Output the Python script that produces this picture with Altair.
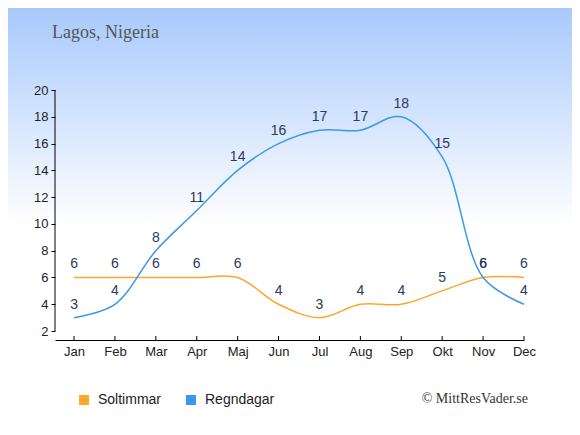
import altair as alt
import pandas as pd

months = ["Jan", "Feb", "Mar", "Apr", "Maj", "Jun", "Jul", "Aug", "Sep", "Okt", "Nov", "Dec"]
soltimmar = [6, 6, 6, 6, 6, 4, 3, 4, 4, 5, 6, 6]
regndagar = [3, 4, 8, 11, 14, 16, 17, 17, 18, 15, 6, 4]
series_names = ["Soltimmar", "Regndagar"]
series_colors = ["#ffa628", "#3b99ea"]
title_text = "Lagos, Nigeria"
credit_text = "© MittResVader.se"

rows = []
for i, m in enumerate(months):
    rows.append({"idx": i, "month": m, "serie": "Soltimmar", "value": soltimmar[i]})
    rows.append({"idx": i, "month": m, "serie": "Regndagar", "value": regndagar[i]})
df = pd.DataFrame(rows)
ticks_df = pd.DataFrame({"idx": list(range(len(months)))})

W, H = 469, 250
xscale = alt.Scale(domain=[-0.465, 11], nice=False, zero=False)
yscale = alt.Scale(domain=[1.333, 20], nice=False, zero=False)
month_expr = "[" + ",".join(f"'{m}'" for m in months) + "][datum.value]"
color_scale = alt.Scale(domain=series_names, range=series_colors)
legend = alt.Legend(title=None, orient="none", legendX=22, legendY=303,
                    direction="horizontal", symbolType="square",
                    symbolSize=100, symbolStrokeWidth=0, symbolOpacity=1,
                    labelFontSize=14, labelFont="Liberation Sans",
                    labelColor="#222", labelOffset=7, columnPadding=22)

x_axis = alt.Axis(values=list(range(12)), labelExpr=month_expr, ticks=False,
                  grid=False, title=None, labelPadding=5, labelFontSize=13,
                  labelFont="Liberation Sans", labelColor="#222",
                  domainColor="#000", labelFlush=False, labelOverlap=False, zindex=1)
y_axis = alt.Axis(values=list(range(2, 21, 2)), domain=False, grid=False, title=None,
                  tickSize=4, tickColor="#000", labelPadding=3, labelFontSize=13,
                  labelFont="Liberation Sans", labelColor="#222",
                  labelOverlap=False, zindex=1)

bg = alt.Chart(pd.DataFrame({"a": [0]})).mark_rect(
    color=alt.Gradient(
        gradient="linear",
        stops=[alt.GradientStop(color="#a8c9fc", offset=0),
               alt.GradientStop(color="#ffffff", offset=0.52)],
        x1=0, x2=0, y1=0, y2=1,
    )
).encode(x=alt.value(-47), x2=alt.value(W + 48), y=alt.value(-82), y2=alt.value(H + 87))

lines = alt.Chart(df).mark_line(interpolate="catmull-rom", strokeWidth=1.5).encode(
    x=alt.X("idx:Q", scale=xscale, axis=x_axis),
    y=alt.Y("value:Q", scale=yscale, axis=y_axis),
    color=alt.Color("serie:N", scale=color_scale, sort=series_names, legend=legend),
    detail="serie:N",
)

legend_pts = alt.Chart(df).mark_square(filled=True, opacity=0, size=1).encode(
    x=alt.X("idx:Q", scale=xscale, axis=x_axis),
    y=alt.Y("value:Q", scale=yscale, axis=y_axis),
    color=alt.Color("serie:N", scale=color_scale, sort=series_names, legend=legend),
)

labels = alt.Chart(df).mark_text(dy=-13, fontSize=14, font="Liberation Sans", color="#2a3a5a").encode(
    x=alt.X("idx:Q", scale=xscale, axis=x_axis),
    y=alt.Y("value:Q", scale=yscale, axis=y_axis),
    text="value:Q",
)

xticks = alt.Chart(ticks_df).mark_rule(color="#000", strokeWidth=1).encode(
    x=alt.X("idx:Q", scale=xscale, axis=x_axis), y=alt.value(H), y2=alt.value(H - 4)
)

yaxis_line = alt.Chart(pd.DataFrame({"lo": [2], "hi": [20]})).mark_rule(color="#000", strokeWidth=1).encode(
    x=alt.value(0), y=alt.Y("lo:Q", scale=yscale, axis=y_axis), y2="hi:Q"
)

title = alt.Chart(pd.DataFrame({"t": [title_text]})).mark_text(
    align="left", baseline="alphabetic", fontSize=18, font="Liberation Serif", color="#555"
).encode(x=alt.value(-3), y=alt.value(-52), text="t:N")

credit = alt.Chart(pd.DataFrame({"t": [credit_text]})).mark_text(
    align="right", baseline="alphabetic", fontSize=14, font="Liberation Serif", color="#333"
).encode(x=alt.value(473), y=alt.value(313), text="t:N")

chart = alt.layer(bg, lines, legend_pts, labels, xticks, yaxis_line, title, credit).properties(
    width=W, height=H,
    autosize=alt.AutoSizeParams(type="none"),
    padding={"left": 47, "top": 82, "right": 48, "bottom": 87},
).configure_view(stroke=None).configure_axis(labelOverlap=False).configure(background="#ffffff")

chart.save("out.html", embed_options={"renderer": "svg", "actions": False})
